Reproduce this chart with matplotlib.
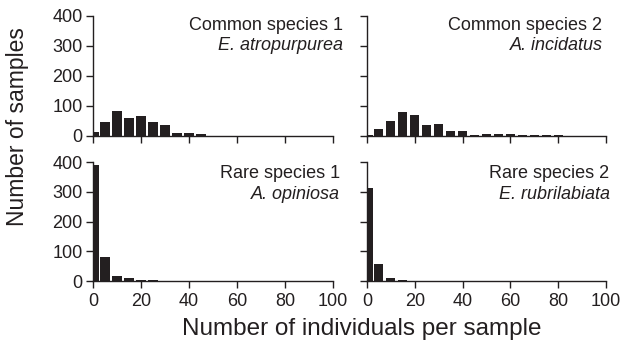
import numpy as np
import matplotlib.pyplot as plt

plt.rcParams['font.family'] = ['Liberation Sans', 'DejaVu Sans']

# bin centres (individuals per sample)
bin_centers = [0.8] + list(range(5, 85, 5))

# number of samples per bin
common1 = [12, 48, 82, 60, 67, 46, 37, 10, 11, 8, 0, 0, 0, 0, 0, 0, 0]
common2 = [3, 22, 49, 80, 71, 36, 40, 16, 16, 4, 7, 7, 8, 3, 3, 2, 2]
rare1 = [391, 82, 16, 9, 2, 5, 0, 0, 0, 0, 0, 0, 0, 0, 0, 0, 0]
rare2 = [313, 56, 10, 4, 1, 0, 0, 0, 0, 0, 0, 0, 0, 0, 0, 0, 0]

titles = ['Common species 1', 'Common species 2', 'Rare species 1', 'Rare species 2']
species = ['E. atropurpurea', 'A. incidatus', 'A. opiniosa', 'E. rubrilabiata']

ink = '#231f20'

fig = plt.figure(figsize=(6.25, 3.46), dpi=100)

W, H = 625, 346
# axes boxes in pixels: left, top, right, bottom
boxes = [(93, 16, 333, 136), (367, 16, 606, 136),
         (93, 162, 333, 281), (367, 162, 606, 281)]
text_x = [1.04, 0.985, 1.03, 1.015]
text_y = [(0.883, 0.715), (0.883, 0.715), (0.866, 0.69), (0.866, 0.69)]
data = [common1, common2, rare1, rare2]

for i, (l, t, r, b) in enumerate(boxes):
    ax = fig.add_axes([l / W, (H - b) / H, (r - l) / W, (b - t) / H])
    ax.bar(bin_centers, data[i], width=3.8, color=ink, edgecolor='none')
    ax.set_xlim(0, 100)
    ax.set_ylim(0, 400)
    ax.set_xticks([0, 20, 40, 60, 80, 100])
    ax.set_yticks([0, 100, 200, 300, 400])
    for s in ['top', 'right']:
        ax.spines[s].set_visible(False)
    for s in ['left', 'bottom']:
        ax.spines[s].set_color(ink)
        ax.spines[s].set_linewidth(1.0)
    ax.tick_params(direction='out', length=5, width=1.0, color=ink,
                   labelsize=13, labelcolor=ink)
    ax.tick_params(axis='x', pad=4)
    ax.tick_params(axis='y', pad=2.5)
    if i < 2:
        ax.set_xticklabels([])
    if i % 2 == 1:
        ax.set_yticklabels([])
    ax.set_facecolor('none')
    ax.text(text_x[i], text_y[i][0], titles[i], transform=ax.transAxes,
            ha='right', va='baseline', fontsize=13, color=ink, clip_on=False)
    ax.text(text_x[i], text_y[i][1], species[i], transform=ax.transAxes,
            ha='right', va='baseline', fontsize=13, style='italic', color=ink,
            clip_on=False)

fig.text(362 / W, (H - 335) / H, 'Number of individuals per sample',
         ha='center', va='baseline', fontsize=17.5, color=ink)
fig.text(18 / W, (H - 127) / H, 'Number of samples', rotation=90,
         ha='center', va='center', fontsize=16.5, color=ink)

fig.savefig('out.png', dpi=100)
